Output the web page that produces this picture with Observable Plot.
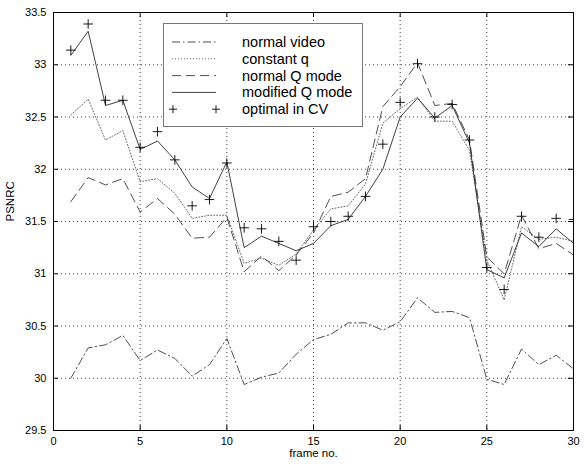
<!DOCTYPE html>
<html>
<head>
<meta charset="utf-8">
<script src="https://cdn.jsdelivr.net/npm/d3@7"></script>
<script src="https://cdn.jsdelivr.net/npm/@observablehq/plot@0.6"></script>
<style>
  html, body { margin: 0; padding: 0; background: #fff; }
  #wrap { position: relative; width: 586px; height: 464px; font-family: "Liberation Sans", Arial, sans-serif; }
  #legend { position: absolute; left: 163px; top: 23px; width: 198px; height: 102px; background: #fff; border: 1px solid #777; }
  #legend svg { display: block; }
</style>
</head>
<body>
<div id="wrap"><div id="chart"></div><div id="legend"></div></div>
<script>
const frames = [1,2,3,4,5,6,7,8,9,10,11,12,13,14,15,16,17,18,19,20,21,22,23,24,25,26,27,28,29,30];
const normalVideo = [30.0, 30.29, 30.32, 30.41, 30.17, 30.27, 30.19, 30.02, 30.13, 30.38, 29.94, 30.01, 30.05, 30.23, 30.37, 30.42, 30.53, 30.53, 30.46, 30.54, 30.77, 30.63, 30.64, 30.58, 29.99, 29.94, 30.28, 30.13, 30.22, 30.09];
const constantQ = [32.52, 32.67, 32.28, 32.37, 31.88, 31.91, 31.77, 31.53, 31.56, 31.56, 31.1, 31.15, 31.08, 31.19, 31.42, 31.62, 31.65, 31.86, 32.44, 32.58, 32.69, 32.46, 32.46, 32.18, 31.13, 30.75, 31.45, 31.33, 31.35, 31.31];
const normalQ = [31.69, 31.92, 31.85, 31.91, 31.59, 31.72, 31.57, 31.34, 31.35, 31.54, 31.02, 31.17, 31.03, 31.18, 31.39, 31.74, 31.78, 31.91, 32.6, 32.79, 33.02, 32.61, 32.63, 32.28, 31.16, 31.0, 31.56, 31.24, 31.29, 31.18];
const modifiedQ = [33.09, 33.32, 32.61, 32.66, 32.19, 32.27, 32.09, 31.83, 31.72, 32.07, 31.25, 31.36, 31.29, 31.22, 31.29, 31.46, 31.52, 31.74, 32.0, 32.5, 32.68, 32.49, 32.61, 32.25, 31.04, 30.96, 31.39, 31.26, 31.43, 31.29];
const optimalCV = [33.14, 33.39, 32.66, 32.66, 32.21, 32.36, 32.09, 31.65, 31.71, 32.06, 31.44, 31.43, 31.31, 31.13, 31.45, 31.50, 31.55, 31.74, 32.24, 32.64, 33.01, 32.5, 32.62, 32.28, 31.06, 30.85, 31.55, 31.35, 31.53, 31.52];
const xTicks = [0, 5, 10, 15, 20, 25, 30];
const yTicks = [29.5, 30, 30.5, 31, 31.5, 32, 32.5, 33, 33.5];
const seriesNames = ["normal video", "constant q", "normal Q mode", "modified Q mode", "optimal in CV"];
const xLabel = "frame no.";
const yLabel = "PSNRC";

const styles = {
  "normal video": {stroke: "#222", dash: "8,3,1.5,3", w: 0.8},
  "constant q": {stroke: "#666", dash: "1,2", w: 1},
  "normal Q mode": {stroke: "#222", dash: "9,5", w: 0.8},
  "modified Q mode": {stroke: "#111", dash: null, w: 0.8}
};

const toRows = (vals) => frames.map((f, i) => ({frame: f, psnr: vals[i]}));
const seriesData = {
  "normal video": toRows(normalVideo),
  "constant q": toRows(constantQ),
  "normal Q mode": toRows(normalQ),
  "modified Q mode": toRows(modifiedQ)
};
const cvRows = toRows(optimalCV);

const W = 586, H = 464, mL = 53, mR = 13, mT = 12, mB = 34;
const pw = W - mL - mR, ph = H - mT - mB;
const gridStyle = {stroke: "#000", strokeOpacity: 0.75, strokeDasharray: "1,3", strokeWidth: 1};

const lineMarks = Object.keys(seriesData).map(k => Plot.line(seriesData[k], {
  x: "frame", y: "psnr", stroke: styles[k].stroke, strokeWidth: styles[k].w,
  strokeDasharray: styles[k].dash, clip: true
}));

const chart = Plot.plot({
  width: W, height: H,
  marginLeft: mL, marginRight: mR, marginTop: mT, marginBottom: mB,
  style: {fontFamily: "'Liberation Sans', Arial, sans-serif", fontSize: "11px", background: "#fff", color: "#000"},
  x: {domain: [0, 30], ticks: xTicks},
  y: {domain: [29.5, 33.5], ticks: yTicks},
  marks: [
    Plot.gridX(xTicks.slice(1, -1), gridStyle),
    Plot.gridY(yTicks.slice(1, -1), gridStyle),
    ...lineMarks,
    Plot.dot(cvRows, {x: "frame", y: "psnr", symbol: "plus", r: 3.2, stroke: "#000", strokeWidth: 0.9, clip: true}),
    Plot.tickX(xTicks, {x: d => d, insetTop: ph - 5, stroke: "#000"}),
    Plot.tickX(xTicks, {x: d => d, insetBottom: ph - 5, stroke: "#000"}),
    Plot.tickY(yTicks, {y: d => d, insetRight: pw - 5, stroke: "#000"}),
    Plot.tickY(yTicks, {y: d => d, insetLeft: pw - 5, stroke: "#000"}),
    Plot.frame({stroke: "#000", strokeWidth: 1}),
    Plot.axisX(xTicks, {tickSize: 0, tickPadding: 7, label: null, fontSize: 11, tickFormat: d => String(d)}),
    Plot.axisY(yTicks, {tickSize: 0, tickPadding: 7, label: null, fontSize: 11, tickFormat: d => String(d)}),
    Plot.text([xLabel], {text: d => d, frameAnchor: "bottom", dy: 26, fontSize: 11.5}),
    Plot.text([yLabel], {text: d => d, frameAnchor: "left", dx: -43, rotate: -90, fontSize: 11.5})
  ]
});
document.getElementById("chart").appendChild(chart);

// Legend
const lg = d3.select("#legend").append("svg").attr("width", 198).attr("height", 102);
seriesNames.forEach((name, i) => {
  const y = 18 + i * 16.8;
  if (styles[name]) {
    lg.append("line").attr("x1", 8).attr("x2", 52).attr("y1", y).attr("y2", y)
      .attr("stroke", styles[name].stroke).attr("stroke-width", styles[name].w)
      .attr("stroke-dasharray", styles[name].dash);
  } else {
    [9, 52].forEach(px => {
      lg.append("path").attr("d", `M${px - 4},${y}h8M${px},${y - 4}v8`)
        .attr("stroke", "#000").attr("stroke-width", 0.9).attr("fill", "none");
    });
  }
  lg.append("text").attr("x", 78).attr("y", y).attr("dy", "0.35em")
    .attr("font-family", "'Liberation Sans', Arial, sans-serif").attr("font-size", 14.5)
    .text(name);
});
</script>
</body>
</html>
